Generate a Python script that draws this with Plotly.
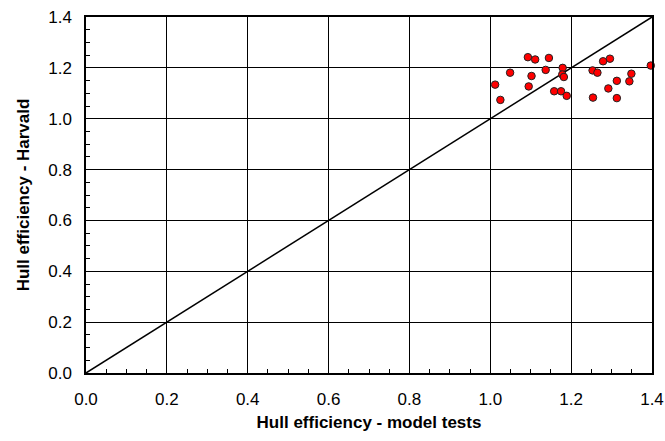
import plotly.graph_objects as go

# Data
model_tests = [1.093, 1.111, 1.145, 1.049, 1.102, 1.137, 1.179, 1.178, 1.182,
               1.012, 1.095, 1.025, 1.158, 1.175, 1.189, 1.254, 1.253, 1.265,
               1.279, 1.296, 1.313, 1.292, 1.313, 1.349, 1.344, 1.397]
harvald = [1.242, 1.233, 1.239, 1.181, 1.168, 1.192, 1.200, 1.174, 1.164,
           1.134, 1.127, 1.074, 1.108, 1.108, 1.090, 1.083, 1.190, 1.181,
           1.226, 1.236, 1.149, 1.119, 1.081, 1.177, 1.147, 1.209]
line_x = [0.0, 1.4]
line_y = [0.0, 1.4]
ticks = [0.0, 0.2, 0.4, 0.6, 0.8, 1.0, 1.2, 1.4]
tick_text = ["0.0", "0.2", "0.4", "0.6", "0.8", "1.0", "1.2", "1.4"]

FONT = "Liberation Sans, Arial, sans-serif"

fig = go.Figure()
fig.add_trace(go.Scatter(x=line_x, y=line_y, mode="lines",
                         line=dict(color="black", width=1.5),
                         showlegend=False, hoverinfo="skip"))
fig.add_trace(go.Scatter(x=model_tests, y=harvald, mode="markers",
                         marker=dict(color="#FF0000", size=7.5,
                                     line=dict(color="#222222", width=1)),
                         cliponaxis=False, showlegend=False))

axis_common = dict(
    range=[0, 1.4], tickvals=ticks, ticktext=tick_text,
    showgrid=True, gridcolor="black", gridwidth=1,
    showline=True, linecolor="black", linewidth=1.5, mirror=True,
    ticks="inside", ticklen=5, tickcolor="black",
    minor=dict(dtick=0.05, ticks="inside", ticklen=4, tickcolor="black", showgrid=False),
    zeroline=False, automargin=False,
    tickfont=dict(family=FONT, size=17, color="black"),
)

fig.update_layout(
    width=665, height=441,
    margin=dict(l=86, r=13, t=17, b=68),
    paper_bgcolor="white", plot_bgcolor="white",
    xaxis=dict(**axis_common,
               title=dict(text="<b>Hull efficiency - model tests</b>",
                          font=dict(family=FONT, size=17, color="black"), standoff=8),
               ticklabelstandoff=10),
    yaxis=dict(**axis_common,
               title=dict(text="<b>Hull efficiency - Harvald</b>",
                          font=dict(family=FONT, size=17, color="black"), standoff=14),
               ticklabelstandoff=9),
)

# Remove the default 8px page margin so the figure fills the window exactly.
fig.write_html("out.html",
               config={"displayModeBar": False},
               post_script="document.body.style.margin='0';document.body.style.overflow='hidden';")
